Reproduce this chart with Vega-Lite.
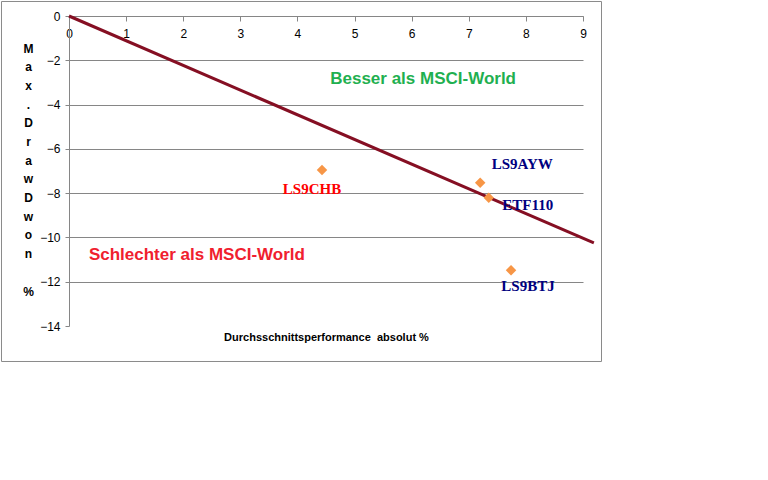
{
  "$schema": "https://vega.github.io/schema/vega-lite/v6.json",
  "width": 514,
  "height": 310,
  "padding": 0,
  "background": "white",
  "config": {"view": {"stroke": null}},
  "datasets": {
    "funds": [
      {"fund": "LS9CHB", "perf": 4.43, "dd": -6.95},
      {"fund": "LS9AYW", "perf": 7.20, "dd": -7.53},
      {"fund": "ETF110", "perf": 7.35, "dd": -8.21},
      {"fund": "LS9BTJ", "perf": 7.74, "dd": -11.48}
    ],
    "bench": [
      {"perf": 0, "dd": 0},
      {"perf": 9.19, "dd": -10.25}
    ]
  },
  "layer": [
    {
      "data": {"values": [{}]},
      "mark": {"type": "rect", "filled": false, "stroke": "#8a8a8a", "strokeWidth": 1, "clip": false},
      "encoding": {
        "x": {"datum": -1.182, "type": "quantitative", "scale": {"domain": [0, 9], "nice": false}},
        "x2": {"datum": 9.324},
        "y": {"datum": 0.655, "type": "quantitative", "scale": {"domain": [-14, 0], "nice": false}},
        "y2": {"datum": -15.603}
      }
    },
    {
      "data": {"name": "bench"},
      "mark": {"type": "line", "color": "#850f23", "strokeWidth": 3, "clip": false},
      "encoding": {
        "x": {
          "field": "perf", "type": "quantitative",
          "scale": {"domain": [0, 9], "nice": false},
          "axis": {
            "orient": "bottom", "offset": -310,
            "values": [0, 1, 2, 3, 4, 5, 6, 7, 8, 9],
            "format": "d",
            "grid": false,
            "domainColor": "#868686", "tickColor": "#868686", "tickSize": 5,
            "labelFont": "Liberation Sans", "labelFontSize": 12, "labelColor": "black",
            "labelPadding": 7, "labelFlush": false,
            "title": "Durchsschnittsperformance\u00a0 absolut %",
            "titleY": 321, "titleBaseline": "middle",
            "titleFont": "Liberation Sans", "titleFontSize": 11, "titleFontWeight": "bold", "titleColor": "black"
          }
        },
        "y": {
          "field": "dd", "type": "quantitative",
          "scale": {"domain": [-14, 0], "nice": false},
          "axis": {
            "values": [-14, -12, -10, -8, -6, -4, -2, 0],
            "format": "d",
            "grid": true, "gridColor": "#868686",
            "gridOpacity": {"condition": {"test": "datum.value === -14", "value": 0}, "value": 1},
            "domainColor": "#868686", "tickColor": "#868686", "tickSize": 4,
            "labelFont": "Liberation Sans", "labelFontSize": 12, "labelColor": "black", "labelPadding": 5,
            "labelFlush": false,
            "title": ["M", "a", "x", ".", "D", "r", "a", "w", "D", "w", "o", "n", "\u200b", "%"],
            "titleAngle": 0, "titleX": -41, "titleY": 27, "titleAlign": "center", "titleBaseline": "top",
            "titleLineHeight": 18.7,
            "titleFont": "Liberation Sans", "titleFontSize": 12, "titleFontWeight": "bold", "titleColor": "black"
          }
        }
      }
    },
    {
      "data": {"name": "funds"},
      "mark": {"type": "point", "shape": "diamond", "filled": true, "color": "#f79646", "size": 110, "opacity": 1},
      "encoding": {
        "x": {"field": "perf", "type": "quantitative"},
        "y": {"field": "dd", "type": "quantitative"}
      }
    },
    {
      "data": {"name": "funds"},
      "transform": [{"filter": "datum.fund === 'LS9CHB'"}],
      "mark": {"type": "text", "font": "Liberation Serif", "fontSize": 15, "fontWeight": "bold", "color": "#ff0000", "dx": -10, "dy": 19, "baseline": "middle"},
      "encoding": {
        "x": {"field": "perf", "type": "quantitative"},
        "y": {"field": "dd", "type": "quantitative"},
        "text": {"field": "fund"}
      }
    },
    {
      "data": {"name": "funds"},
      "transform": [{"filter": "datum.fund === 'LS9AYW'"}],
      "mark": {"type": "text", "font": "Liberation Serif", "fontSize": 15, "fontWeight": "bold", "color": "#000080", "dx": 42, "dy": -19, "baseline": "middle"},
      "encoding": {
        "x": {"field": "perf", "type": "quantitative"},
        "y": {"field": "dd", "type": "quantitative"},
        "text": {"field": "fund"}
      }
    },
    {
      "data": {"name": "funds"},
      "transform": [{"filter": "datum.fund === 'ETF110'"}],
      "mark": {"type": "text", "font": "Liberation Serif", "fontSize": 15, "fontWeight": "bold", "color": "#000080", "dx": 39, "dy": 7, "baseline": "middle"},
      "encoding": {
        "x": {"field": "perf", "type": "quantitative"},
        "y": {"field": "dd", "type": "quantitative"},
        "text": {"field": "fund"}
      }
    },
    {
      "data": {"name": "funds"},
      "transform": [{"filter": "datum.fund === 'LS9BTJ'"}],
      "mark": {"type": "text", "font": "Liberation Serif", "fontSize": 15, "fontWeight": "bold", "color": "#000080", "dx": 17, "dy": 16, "baseline": "middle"},
      "encoding": {
        "x": {"field": "perf", "type": "quantitative"},
        "y": {"field": "dd", "type": "quantitative"},
        "text": {"field": "fund"}
      }
    },
    {
      "data": {"values": [{}]},
      "mark": {"type": "text", "text": "Besser als MSCI-World", "font": "Liberation Sans", "fontSize": 17, "fontWeight": "bold", "color": "#1fb050", "baseline": "middle", "align": "center"},
      "encoding": {
        "x": {"datum": 6.2, "type": "quantitative"},
        "y": {"datum": -2.85, "type": "quantitative"}
      }
    },
    {
      "data": {"values": [{}]},
      "mark": {"type": "text", "text": "Schlechter als MSCI-World", "font": "Liberation Sans", "fontSize": 17, "fontWeight": "bold", "color": "#f0202e", "baseline": "middle", "align": "center"},
      "encoding": {
        "x": {"datum": 2.24, "type": "quantitative"},
        "y": {"datum": -10.79, "type": "quantitative"}
      }
    }
  ]
}
